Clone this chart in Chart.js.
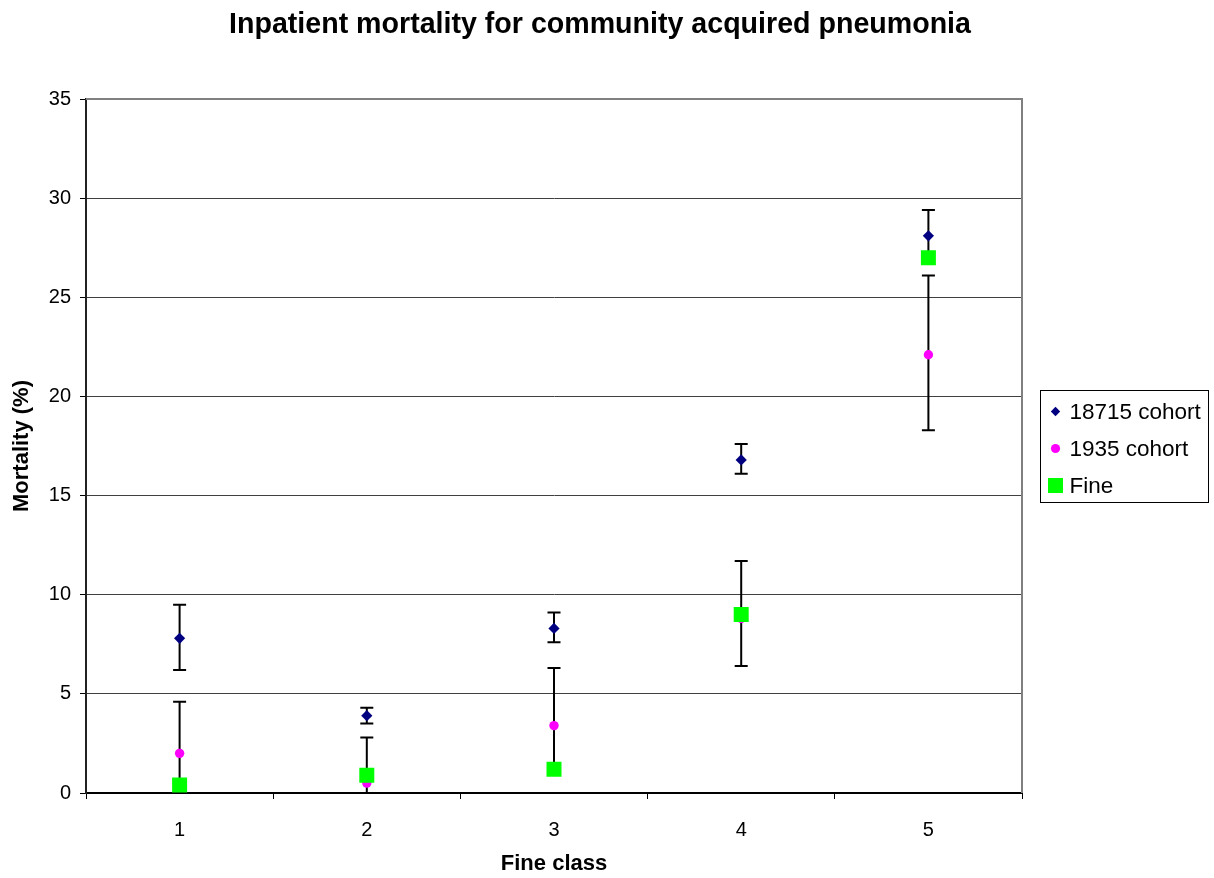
<!DOCTYPE html>
<html><head><meta charset="utf-8">
<script src="https://cdn.jsdelivr.net/npm/chart.js@4/dist/chart.umd.min.js"></script>
<style>html,body{margin:0;padding:0;background:#fff}</style>
</head><body>
<canvas id="c" width="1214" height="878"></canvas>
<script>
const categories = ['1', '2', '3', '4', '5'];
const cohort18715 = [7.8, 3.9, 8.3, 16.8, 28.1];
const cohort18715Low = [6.2, 3.5, 7.6, 16.1, 26.8];
const cohort18715High = [9.5, 4.3, 9.1, 17.6, 29.4];
const cohort1935 = [2.0, 0.5, 3.4, 8.8, 22.1];
const cohort1935Low = [0, 0, 1.0, 6.4, 18.3];
const cohort1935High = [4.6, 2.8, 6.3, 11.7, 26.1];
const fine = [0.4, 0.9, 1.2, 9.0, 27.0];
const seriesLabels = ['18715 cohort', '1935 cohort', 'Fine'];
const yMin = 0, yMax = 35, yStep = 5;

const FONT = "'Liberation Sans', Arial, sans-serif";

const errorBarPlugin = {
  id: 'errorBars',
  beforeDatasetsDraw(chart) {
    const ctx = chart.ctx, xs = chart.scales.x, ys = chart.scales.y, a = chart.chartArea;
    ctx.save();
    ctx.strokeStyle = '#808080';
    ctx.lineWidth = 2;
    ctx.beginPath();
    ctx.moveTo(a.left, a.top);
    ctx.lineTo(a.right, a.top);
    ctx.lineTo(a.right, a.bottom);
    ctx.stroke();
    ctx.restore();
    ctx.save();
    ctx.strokeStyle = '#000';
    ctx.lineWidth = 2;
    chart.data.datasets.forEach(ds => {
      if (!ds.errLow) return;
      ds.data.forEach((v, i) => {
        const x = xs.getPixelForValue(i);
        const yl = ys.getPixelForValue(ds.errLow[i]);
        const yh = ys.getPixelForValue(ds.errHigh[i]);
        ctx.beginPath();
        ctx.moveTo(x, yl); ctx.lineTo(x, yh);
        ctx.moveTo(x - 6.5, yl); ctx.lineTo(x + 6.5, yl);
        ctx.moveTo(x - 6.5, yh); ctx.lineTo(x + 6.5, yh);
        ctx.stroke();
      });
    });
    ctx.restore();
  }
};

const legendPlugin = {
  id: 'boxLegend',
  afterDraw(chart) {
    const ctx = chart.ctx, a = chart.chartArea;
    const x0 = Math.round(a.right + 18) + 0.5;
    const yc = (a.top + a.bottom) / 2;
    const w = 168, h = 112;
    const y0 = Math.round(yc - h / 2) + 0.5;
    ctx.save();
    ctx.strokeStyle = '#000';
    ctx.lineWidth = 1;
    ctx.strokeRect(x0, y0, w, h);
    ctx.font = '22.5px ' + FONT;
    ctx.textBaseline = 'middle';
    ctx.textAlign = 'left';
    chart.data.datasets.forEach((ds, i) => {
      const cy = y0 + 21 + i * 37;
      const mx = x0 + 15;
      ctx.fillStyle = ds.backgroundColor;
      ctx.beginPath();
      if (ds.pointStyle === 'rectRot') {
        ctx.moveTo(mx, cy - 4.7); ctx.lineTo(mx + 4.7, cy); ctx.lineTo(mx, cy + 4.7); ctx.lineTo(mx - 4.7, cy); ctx.closePath();
      } else if (ds.pointStyle === 'circle') {
        ctx.arc(mx, cy, 4.6, 0, Math.PI * 2);
      } else {
        ctx.rect(mx - 7.5, cy - 7.5, 15, 15);
      }
      ctx.fill();
      ctx.fillStyle = '#000';
      ctx.fillText(ds.label, x0 + 29, cy + 1);
    });
    ctx.restore();
  }
};

new Chart(document.getElementById('c'), {
  type: 'line',
  data: {
    labels: categories,
    datasets: [
      { label: seriesLabels[0], data: cohort18715, errLow: cohort18715Low, errHigh: cohort18715High,
        showLine: false, pointStyle: 'rectRot', pointRadius: 5.6, pointHoverRadius: 5.6,
        backgroundColor: '#000080', borderColor: '#000080', pointBorderWidth: 0, order: 3 },
      { label: seriesLabels[1], data: cohort1935, errLow: cohort1935Low, errHigh: cohort1935High,
        showLine: false, pointStyle: 'circle', pointRadius: 4.7, pointHoverRadius: 4.7,
        backgroundColor: '#FF00FF', borderColor: '#FF00FF', pointBorderWidth: 0, order: 2 },
      { label: seriesLabels[2], data: fine,
        showLine: false, pointStyle: 'rect', pointRadius: 10.6, pointHoverRadius: 10.6,
        backgroundColor: '#00FF00', borderColor: '#00FF00', pointBorderWidth: 0, order: 1 }
    ]
  },
  options: {
    responsive: false,
    animation: false,
    layout: { padding: { left: 0, right: 14, top: 0, bottom: 0 } },
    plugins: {
      legend: { display: false },
      tooltip: { enabled: false },
      title: {
        display: true,
        text: 'Inpatient mortality for community acquired pneumonia',
        color: '#000',
        font: { family: FONT, size: 28.6, weight: 'bold', lineHeight: 1.2 },
        padding: { top: 8, bottom: 56.7 }
      }
    },
    scales: {
      x: {
        type: 'category',
        offset: true,
        grid: { display: true, offset: true, drawOnChartArea: false, drawTicks: true, tickLength: 6, color: '#000', tickColor: '#000', lineWidth: 1 },
        border: { display: true, color: '#000', width: 2 },
        ticks: { color: '#000', font: { family: FONT, size: 20 }, padding: 19, maxRotation: 0 },
        title: { display: true, text: 'Fine class', color: '#000', font: { family: FONT, size: 22, weight: 'bold', lineHeight: 1.2 }, padding: { top: 0, bottom: 1 } },
        afterFit(s) { s.height = 85; }
      },
      y: {
        type: 'linear',
        position: 'left',
        min: yMin, max: yMax,
        ticks: { stepSize: yStep, color: '#000', font: { family: FONT, size: 20 }, padding: 9 },
        grid: { color: '#404040', lineWidth: 1, drawTicks: true, tickLength: 6, tickColor: '#000' },
        border: { display: true, color: '#222', width: 2 },
        title: { display: true, text: 'Mortality (%)', color: '#000', font: { family: FONT, size: 22, weight: 'bold', lineHeight: 1.2 }, padding: { top: 9, bottom: 0 } },
        afterFit(s) { s.width = 86; }
      },
      yRight: {
        type: 'linear',
        position: 'right',
        display: true,
        min: yMin, max: yMax,
        grid: { display: false, drawTicks: false },
        border: { display: false },
        ticks: { display: false },
        afterFit(s) { s.width = 178; }
      }
    }
  },
  plugins: [errorBarPlugin, legendPlugin]
});
</script>
</body></html>
